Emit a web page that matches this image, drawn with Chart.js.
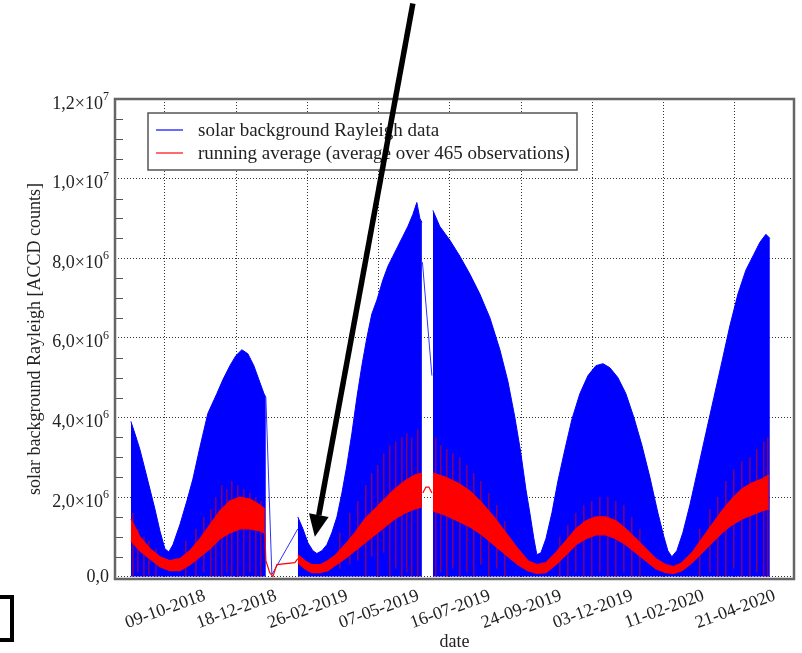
<!DOCTYPE html>
<html>
<head>
<meta charset="utf-8">
<script src="https://cdn.jsdelivr.net/npm/chart.js@4.4.0/dist/chart.umd.min.js"></script>
<style>
  body { margin: 0; background: #fff; }
  #wrap { position: relative; width: 802px; height: 653px; overflow: hidden; }
  #box { position: absolute; left: -20px; top: 595px; width: 34px; height: 47px; border: 4px solid #000; box-sizing: border-box; }
</style>
</head>
<body>
<div id="wrap">
  <canvas id="myChart" width="802" height="653"></canvas>
  <div id="box"></div>
</div>
<script>
// Eje x: dias contados desde el 09-10-2018 (primer tick)
const startDate = Date.UTC(2018, 9, 9);
const xTickDays = [0, 70, 140, 210, 280, 350, 420, 490, 560];
const yTickValues = [0, 2e6, 4e6, 6e6, 8e6, 1e7, 1.2e7];

// Envolvente superior de los datos Rayleigh (millones de cuentas), null = hueco sin datos
const blueDays = [-33.4, -29.5, -24.6, -19.6, -14.7, -9.8, -4.9, 0, 3.9, 7.9, 14.7, 21.6, 27.5, 34.4, 42.2, 51.1, 57, 63.9, 69.7, 75.6, 81.5, 87.4, 92.3, 97.3, 99.2,
  115,
  130.6, 135.6, 140.5, 145.4, 149.3, 154.2, 159.1, 164, 169, 173.9, 178.8, 183.7, 188.6, 193.5, 198.4, 203.3, 208.3, 214.1, 219.1, 224, 228.9, 233.8, 238.7, 243.6, 247.5, 250.5, 252.5,
  257,
  263.3, 270, 280, 289.8, 299.6, 309.4, 319.3, 329.1, 337, 343.8, 349.7, 354.6, 358.5, 362.5, 365.4, 369.4, 374.3, 380.2, 386.1, 393, 399.8, 407.7, 415.6, 423.4, 430.3, 437.1, 445, 452.8, 460.7, 468.6, 476.4, 484.3, 490.2, 494.1, 498, 502.9, 508.8, 515.7, 523.6, 531.4, 539.3, 547.2, 555, 562.9, 570.7, 578.6, 584.5, 590.4, 594.3];
const blueTop = [3.9, 3.6, 3.2, 2.7, 2.2, 1.7, 1.15, 0.7, 0.62, 0.8, 1.3, 1.9, 2.45, 3.25, 4.1, 4.6, 4.95, 5.3, 5.55, 5.7, 5.6, 5.3, 4.95, 4.6, 4.5,
  null,
  1.5, 1.2, 0.85, 0.65, 0.58, 0.65, 0.8, 1.1, 1.5, 2.1, 2.8, 3.6, 4.5, 5.3, 6.0, 6.6, 6.95, 7.45, 7.8, 8.05, 8.3, 8.55, 8.8, 9.1, 9.4, 9.0, 8.9,
  null,
  9.2, 8.8, 8.45, 8.05, 7.6, 7.1, 6.5, 5.7, 4.9, 4.0, 3.1, 2.2, 1.6, 0.95, 0.55, 0.6, 0.95, 1.6, 2.4, 3.2, 3.95, 4.6, 5.05, 5.3, 5.35, 5.25, 5.0, 4.6, 4.0, 3.3, 2.5, 1.6, 1.0, 0.65, 0.5, 0.65, 1.1, 1.8, 2.7, 3.6, 4.5, 5.4, 6.3, 7.1, 7.7, 8.1, 8.4, 8.6, 8.5];

// Linea fina que une los bloques a traves de los huecos
const blueGapDays = [99.2, 105.1, 130.6, 200, 253, 262.3];
const blueGapVals = [4.5, 0.05, 1.2, null, 7.9, 5.05];

// Promedio movil: borde superior e inferior de la banda roja (millones)
const redDays = [-33.4, -24.6, -14.7, -4.9, 4.9, 14.7, 24.6, 34.4, 44.2, 54, 63.9, 73.7, 83.5, 93.3, 98.2,
  115,
  130.6, 137.5, 144.4, 152.3, 160.1, 168, 176.8, 186.6, 196.5, 206.3, 216.1, 225.9, 235.8, 245.6, 252.5,
  257,
  263.3, 275.1, 287.8, 299.6, 311.4, 323.2, 335, 346.8, 356.6, 365.4, 374.3, 384.1, 393.9, 403.7, 413.6, 423.4, 433.2, 443, 452.8, 462.7, 472.5, 482.3, 492.1, 500, 507.9, 517.7, 527.5, 537.3, 547.2, 557, 566.8, 576.6, 586.4, 593.3];
const redUpper = [1.45, 1.0, 0.7, 0.5, 0.4, 0.45, 0.65, 0.95, 1.3, 1.65, 1.9, 2.0, 1.95, 1.8, 1.7,
  null,
  0.55, 0.4, 0.3, 0.3, 0.4, 0.55, 0.8, 1.1, 1.45, 1.7, 1.95, 2.2, 2.4, 2.55, 2.6,
  null,
  2.6, 2.5, 2.35, 2.15, 1.85, 1.5, 1.1, 0.7, 0.4, 0.3, 0.35, 0.6, 0.9, 1.2, 1.4, 1.5, 1.5, 1.4, 1.2, 0.95, 0.7, 0.45, 0.3, 0.25, 0.35, 0.6, 0.95, 1.3, 1.65, 1.95, 2.2, 2.35, 2.45, 2.55];
const redLower = [0.9, 0.65, 0.45, 0.25, 0.15, 0.15, 0.3, 0.5, 0.7, 0.95, 1.1, 1.2, 1.2, 1.15, 1.1,
  null,
  0.35, 0.2, 0.1, 0.1, 0.15, 0.3, 0.45, 0.65, 0.85, 1.05, 1.25, 1.45, 1.6, 1.7, 1.75,
  null,
  1.65, 1.55, 1.4, 1.25, 1.05, 0.8, 0.55, 0.3, 0.15, 0.08, 0.1, 0.3, 0.55, 0.8, 0.95, 1.05, 1.05, 0.95, 0.8, 0.6, 0.4, 0.2, 0.1, 0.08, 0.15, 0.35, 0.6, 0.85, 1.1, 1.3, 1.45, 1.55, 1.65, 1.7];

// Promedio movil dentro de los huecos
const redGapDays = [98.2, 99.2, 103, 106.1, 110, 127.7, 130.6, 200, 253.4, 256.4, 259.3, 262.3];
const redGapVals = [1.1, 0.4, 0.1, 0, 0.3, 0.35, 0.45, null, 2.1, 2.25, 2.25, 2.1];

// Picos verticales del promedio movil (minimo y maximo, millones)
const spikeDays = [-31.4, -26.5, -20.6, -15.7, -8.8, 20.6, 30.5, 38.3, 45.2, 50.1, 56.0, 60.9, 65.8, 71.7, 77.6, 83.5, 89.4, 94.3,
  171.9, 181.7, 189.6, 197.4, 203.3, 209.2, 215.1, 221.0, 226.9, 232.8, 237.7, 242.6, 248.5,
  266.2, 271.1, 277.0, 282.9, 289.8, 296.7, 303.5, 310.4, 318.3, 326.1, 334.0, 388.0, 395.9, 403.7, 411.6, 419.4, 427.3, 435.2, 443.0, 450.9, 458.7, 466.6,
  525.5, 535.4, 543.2, 551.1, 558.9, 566.8, 574.7, 581.5, 588.4, 592.3];
const spikeLow = [0, 0.1, 0, 0.05, 0, 0, 0, 0.1, 0, 0, 0, 0.1, 0, 0, 0, 0.1, 0, 0,
  0.2, 0.3, 0.4, 0, 0.5, 0, 0.6, 0, 0.2, 0, 0.1, 0, 0,
  0, 0.1, 0, 0.2, 0, 0.1, 0, 0.3, 0, 0.2, 0, 0, 0, 0.1, 0, 0, 0.1, 0, 0, 0.1, 0, 0,
  0, 0.1, 0, 0, 0.2, 0, 0, 0.1, 0, 0];
const spikeHigh = [1.6, 1.2, 1.0, 0.9, 0.7, 0.9, 1.2, 1.5, 1.7, 2.0, 2.3, 2.2, 2.4, 2.3, 2.2, 2.1, 2.0, 1.9,
  1.1, 1.6, 1.9, 2.3, 2.6, 2.8, 3.1, 3.3, 3.4, 3.5, 3.6, 3.5, 3.7,
  3.5, 3.3, 3.2, 3.1, 3.0, 2.8, 2.6, 2.4, 2.1, 1.8, 1.4, 1.0, 1.3, 1.6, 1.8, 1.9, 2.0, 2.0, 1.9, 1.8, 1.5, 1.2,
  1.2, 1.7, 2.0, 2.4, 2.7, 2.9, 3.0, 3.2, 3.4, 3.5];

// Flecha negra (anotacion), en coordenadas de datos
const arrowTail = { day: 243.6, value: 14.4e6 };
const arrowTip = { day: 147.3, value: 1.0e6 };

const serif = '"Liberation Serif", "Times New Roman", serif';

function toPoints(days, vals) {
  return days.map((d, i) => ({ x: d, y: vals[i] === null ? null : vals[i] * 1e6 }));
}

function formatDate(day) {
  const dt = new Date(startDate + day * 86400000);
  const dd = String(dt.getUTCDate()).padStart(2, '0');
  const mm = String(dt.getUTCMonth() + 1).padStart(2, '0');
  return dd + '-' + mm + '-' + dt.getUTCFullYear();
}

// Etiqueta del eje y separada en base y exponente (1,2x10^7)
function yLabelParts(v) {
  if (v === 0) return ['0,0', ''];
  const exp = Math.floor(Math.log10(v) + 1e-9);
  const mant = (v / Math.pow(10, exp)).toFixed(1).replace('.', ',');
  return [mant + '×10', String(exp)];
}

const spikePoints = [];
spikeDays.forEach((d, i) => {
  spikePoints.push({ x: d, y: spikeLow[i] * 1e6 }, { x: d, y: spikeHigh[i] * 1e6 }, { x: d, y: null });
});

// Marco, ticks menores y leyenda dentro del area del grafico
const framePlugin = {
  id: 'framePlugin',
  afterDatasetsDraw(chart) {
    const { ctx, chartArea: a, scales } = chart;
    ctx.save();
    // ticks menores del eje y
    ctx.strokeStyle = '#555';
    ctx.lineWidth = 1;
    for (let v = 5e5; v < 1.2e7; v += 5e5) {
      if (v % 2e6 === 0) continue;
      const y = Math.round(scales.y.getPixelForValue(v)) + 0.5;
      ctx.beginPath();
      ctx.moveTo(a.left, y);
      ctx.lineTo(a.left + 8, y);
      ctx.stroke();
    }
    ctx.strokeStyle = '#666';
    ctx.lineWidth = 2.5;
    ctx.strokeRect(a.left, a.top, a.right - a.left, a.bottom - a.top);

    // leyenda
    const lx = a.left + 33, ly = a.top + 14;
    ctx.fillStyle = '#fff';
    ctx.fillRect(lx, ly, 429, 57);
    ctx.strokeStyle = '#555';
    ctx.lineWidth = 1.5;
    ctx.strokeRect(lx, ly, 429, 57);
    const items = [
      { text: chart.data.datasets[0].label, color: '#3a3aff' },
      { text: chart.data.datasets[3].label, color: '#ff3a3a' }
    ];
    ctx.font = '19px ' + serif;
    ctx.textAlign = 'left';
    ctx.textBaseline = 'alphabetic';
    items.forEach((it, i) => {
      const y = ly + 17 + i * 23;
      ctx.strokeStyle = it.color;
      ctx.lineWidth = 1.5;
      ctx.beginPath();
      ctx.moveTo(lx + 8, y);
      ctx.lineTo(lx + 35, y);
      ctx.stroke();
      ctx.fillStyle = '#222';
      ctx.fillText(it.text, lx + 50, y + 6);
    });
    ctx.restore();
  },
  afterDraw(chart) {
    const { ctx, chartArea: a, scales } = chart;
    ctx.save();
    // etiquetas del eje y con exponente
    yTickValues.forEach((v) => {
      const y = scales.y.getPixelForValue(v);
      const [base, exp] = yLabelParts(v);
      const xr = a.left - 6;
      ctx.fillStyle = '#222';
      ctx.textBaseline = 'alphabetic';
      if (exp) {
        ctx.font = '12px ' + serif;
        const sw = ctx.measureText(exp).width;
        ctx.textAlign = 'left';
        ctx.fillText(exp, xr - sw, y + 1);
        ctx.font = '18px ' + serif;
        ctx.textAlign = 'right';
        ctx.fillText(base, xr - sw, y + 9.5);
      } else {
        ctx.font = '18px ' + serif;
        ctx.textAlign = 'right';
        ctx.fillText(base, xr, y + 5.5);
      }
    });

    // flecha
    const x1 = scales.x.getPixelForValue(arrowTail.day), y1 = scales.y.getPixelForValue(arrowTail.value);
    const x2 = scales.x.getPixelForValue(arrowTip.day), y2 = scales.y.getPixelForValue(arrowTip.value);
    const ang = Math.atan2(y2 - y1, x2 - x1);
    const headLen = 22, headW = 10;
    const bx = x2 - headLen * Math.cos(ang), by = y2 - headLen * Math.sin(ang);
    ctx.strokeStyle = '#000';
    ctx.fillStyle = '#000';
    ctx.lineWidth = 5.5;
    ctx.beginPath();
    ctx.moveTo(x1, y1);
    ctx.lineTo(bx, by);
    ctx.stroke();
    ctx.beginPath();
    ctx.moveTo(x2, y2);
    ctx.lineTo(bx + headW * Math.sin(ang), by - headW * Math.cos(ang));
    ctx.lineTo(bx - headW * Math.sin(ang), by + headW * Math.cos(ang));
    ctx.closePath();
    ctx.fill();
    ctx.restore();
  }
};

const lineBase = { pointRadius: 0, tension: 0, spanGaps: false };

const datasets = [
  { ...lineBase, label: 'solar background Rayleigh data', data: toPoints(blueDays, blueTop),
    borderColor: '#0000ff', backgroundColor: '#0000ff', borderWidth: 1, fill: 'origin', order: 5 },
  { ...lineBase, label: 'gap blue', data: toPoints(blueGapDays, blueGapVals),
    borderColor: '#3030ff', borderWidth: 1, fill: false, order: 4 },
  { ...lineBase, label: 'spikes', data: spikePoints,
    borderColor: 'rgba(225,0,0,0.85)', borderWidth: 1, fill: false, order: 3 },
  { ...lineBase, label: 'running average (average over 465 observations)', data: toPoints(redDays, redUpper),
    borderColor: '#ff0000', backgroundColor: '#ff0000', borderWidth: 1.2, fill: '+1', order: 1 },
  { ...lineBase, label: 'lower', data: toPoints(redDays, redLower),
    borderColor: '#ff0000', borderWidth: 1.2, fill: false, order: 1 },
  { ...lineBase, label: 'gap red', data: toPoints(redGapDays, redGapVals),
    borderColor: '#ff0000', borderWidth: 1.2, fill: false, order: 2 }
];

const axisFont = { family: serif, size: 18 };

new Chart(document.getElementById('myChart'), {
  type: 'line',
  data: { datasets },
  options: {
    responsive: false,
    animation: false,
    devicePixelRatio: 1,
    events: [],
    layout: { padding: { top: 99, right: 8, bottom: 0, left: 0 } },
    plugins: { legend: { display: false }, tooltip: { enabled: false } },
    scales: {
      x: {
        type: 'linear', min: -49, max: 618, offset: false,
        afterBuildTicks: (scale) => { scale.ticks = xTickDays.map((v) => ({ value: v })); },
        afterFit: (scale) => { scale.height = 74; },
        grid: { color: '#333', lineWidth: 1, drawTicks: false },
        border: { display: false, dash: [1, 2] },
        ticks: { autoSkip: false, minRotation: 20, maxRotation: 20, labelOffset: 40, padding: 6,
          color: '#222', font: axisFont, callback: (v) => formatDate(v) },
        title: { display: true, text: 'date', color: '#222', font: axisFont, padding: { top: 0, bottom: 0 } }
      },
      y: {
        type: 'linear', min: -60000, max: 1.2e7,
        afterBuildTicks: (scale) => { scale.ticks = yTickValues.map((v) => ({ value: v })); },
        afterFit: (scale) => { scale.width = 115; },
        grid: { color: '#333', lineWidth: 1, drawTicks: false },
        border: { display: false, dash: [1, 2] },
        ticks: { display: false },
        title: { display: true, text: 'solar background Rayleigh [ACCD counts]', color: '#222', font: axisFont,
          padding: { top: 24, bottom: 0 } }
      }
    }
  },
  plugins: [framePlugin]
});
</script>
</body>
</html>
